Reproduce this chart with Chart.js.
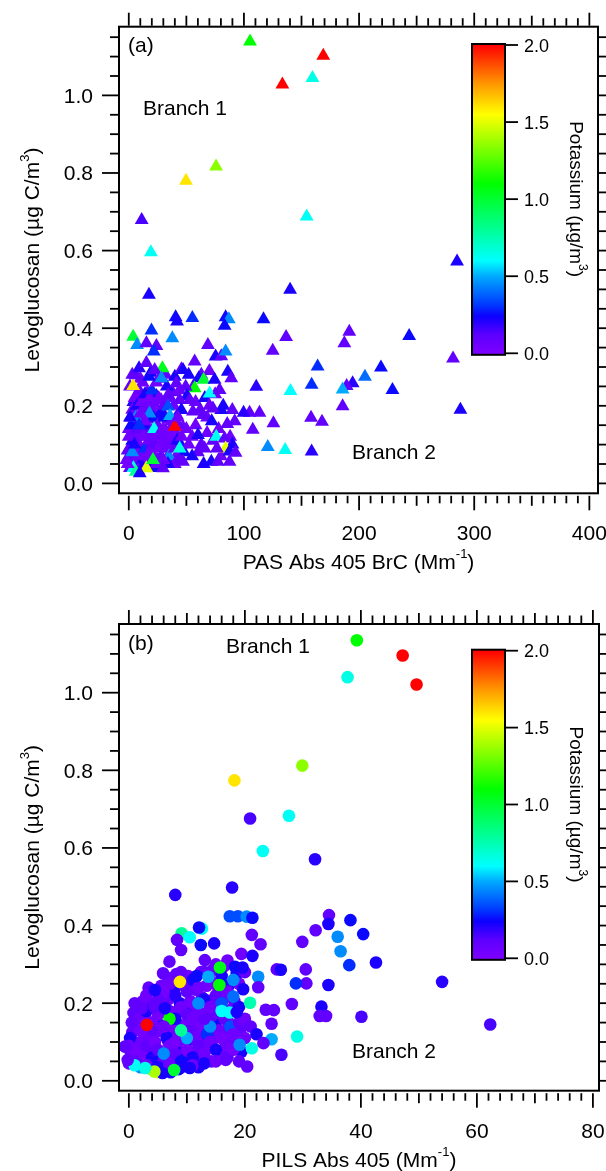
<!DOCTYPE html>
<html>
<head>
<meta charset="utf-8">
<title>Levoglucosan vs BrC absorption</title>
<script src="https://cdn.jsdelivr.net/npm/chart.js@4.4.1/dist/chart.umd.min.js"></script>
<style>
  html, body { margin: 0; padding: 0; background: #fff; }
  #wrap { width: 606px; height: 1171px; overflow: hidden; }
  canvas { display: block; }
</style>
</head>
<body>
<div id="wrap">
  <canvas id="chartA" width="606" height="585"></canvas>
  <canvas id="chartB" width="606" height="586"></canvas>
</div>
<script>
// ---- data: [absorption (Mm-1), levoglucosan (ug C/m3), potassium (ug/m3)] ----
const pasAbsPoints = [
  // dense cluster near the origin (drawn first, partly hidden)
  [-2,0.06,0.05],[1,0.04,0.1],[5,0.05,0.22],[9,0.045,0.05],[13,0.055,0.1],[17,0.05,0.03],[21,0.045,0.22],[25,0.06,0.05],
  [29,0.05,0.1],[33,0.065,0.05],[37,0.055,0.22],[41,0.07,0.05],[-1,0.085,0.1],[2,0.095,0.05],[6,0.09,0.03],[10,0.085,0.22],
  [15,0.095,0.1],[19,0.09,0.05],[23,0.10,0.1],[27,0.095,0.22],[31,0.105,0.05],[35,0.10,0.1],[39,0.11,0.05],[45,0.10,0.22],
  [0,0.14,0.05],[4,0.125,0.1],[8,0.135,0.22],[12,0.13,0.05],[16,0.125,0.1],[20,0.135,0.03],[24,0.14,0.05],[28,0.125,0.22],
  [32,0.135,0.1],[36,0.14,0.05],[41,0.13,0.1],[47,0.145,0.05],[2,0.17,0.1],[6,0.165,0.05],[10,0.16,0.22],[14,0.175,0.05],
  [18,0.165,0.1],[22,0.18,0.05],[26,0.17,0.22],[30,0.18,0.1],[34,0.165,0.05],[42,0.175,0.1],[4,0.21,0.22],[8,0.225,0.05],
  [12,0.215,0.1],[16,0.235,0.05],[20,0.21,0.1],[24,0.225,0.22],[28,0.215,0.05],[38,0.235,0.1],[44,0.24,0.05],[3,0.28,0.1],
  [10,0.27,0.05],[19,0.285,0.22],[26,0.27,0.05],[32,0.28,0.1],[40,0.275,0.22],[55,0.12,0.05],[60,0.08,0.1],[65,0.05,0.22],
  [68,0.17,0.05],[73,0.11,0.1],[78,0.14,0.05],[82,0.20,0.22],[88,0.12,0.05],[92,0.16,0.1],[58,0.21,0.05],[63,0.28,0.1],
  [70,0.29,0.05],[80,0.07,0.05],[90,0.10,0.22],
  [2,0.05,0.05],[4,0.07,0.03],[1,0.09,0.1],[3,0.11,0.22],[6,0.06,0.05],[8,0.08,0.03],[5,0.13,0.1],[2,0.15,0.25],
  [7,0.12,0.05],[10,0.05,0.22],[12,0.07,0.05],[9,0.10,0.03],[11,0.14,0.1],[14,0.09,0.3],[13,0.12,0.03],[16,0.06,0.05],
  [18,0.08,0.03],[15,0.15,0.22],[17,0.11,0.05],[20,0.10,0.1],[22,0.07,0.03],[19,0.13,0.05],[21,0.17,0.25],[24,0.12,0.05],
  [26,0.09,0.03],[25,0.15,0.1],[23,0.20,0.05],[27,0.18,0.22],[29,0.11,0.05],[30,0.14,0.03],[28,0.07,0.1],[32,0.09,0.05],
  [31,0.17,0.25],[33,0.12,0.05],[35,0.07,0.45],[36,0.10,0.05],[38,0.13,0.03],[40,0.09,0.1],[42,0.11,0.22],[37,0.16,0.05],
  [39,0.20,0.05],[43,0.15,0.1],[46,0.12,0.05],[48,0.08,0.25],[50,0.14,0.05],[3,0.19,0.05],[5,0.22,0.03],[1,0.25,0.1],
  [7,0.20,0.22],[9,0.24,0.05],[11,0.21,0.03],[13,0.19,0.1],[6,0.17,0.45],[10,0.18,0.05],[12,0.26,0.05],[14,0.23,0.22],
  [16,0.20,0.05],[18,0.22,0.03],[20,0.24,0.3],[4,0.04,0.62],[8,0.035,0.05],[12,0.04,0.22],[6,0.03,0.8],[16,0.045,0.05],
  [20,0.04,0.25],[24,0.05,0.05],[0,0.07,0.1],[-1,0.05,0.03],[0,0.12,0.05],[1,0.17,0.22],[26,0.22,0.05],[30,0.20,0.1],
  [33,0.25,0.22],[36,0.22,0.05],[24,0.26,0.03],[18,0.18,0.45],[22,0.14,0.62],[27,0.13,0.05],[14,0.16,0.03],[9,0.15,0.3],
  [3,0.08,0.45],[5,0.10,0.22],[40,0.05,0.05],[44,0.06,0.1],[34,0.05,0.22],[30,0.06,0.05],[52,0.10,0.05],[55,0.07,0.22],
  [58,0.15,0.05],[62,0.19,0.1],[66,0.22,0.22],[70,0.20,0.05],[56,0.25,0.05],[63,0.10,0.1],[68,0.13,0.05],[72,0.16,0.22],
  [75,0.23,0.05],[52,0.28,0.22],
  // scattered points
  [40.7,0.428,0.25],[41.9,0.417,0.22],[55.2,0.426,0.3],[84.1,0.428,0.25],[86.9,0.423,0.45],[83.2,0.406,0.25],[117,0.423,0.25],
  [3.8,0.378,1.0],[19.7,0.394,0.3],[7.2,0.357,0.45],[15.3,0.361,0.1],[24,0.354,0.1],[21.7,0.34,0.3],[37.8,0.374,0.45],
  [68.7,0.357,0.1],[75.4,0.327,0.22],[80.3,0.328,0.1],[84.1,0.34,0.45],[136.6,0.377,0.1],[191.5,0.391,0.1],[187.2,0.361,0.1],
  [125,0.342,0.1],[243.5,0.38,0.25],[164,0.301,0.3],[219,0.299,0.25],[205.1,0.275,0.4],[194.4,0.258,0.2],[189.2,0.251,0.1],
  [185.7,0.242,0.5],[229,0.241,0.25],[158.8,0.254,0.3],[140.4,0.238,0.6],[110.7,0.249,0.2],[185.7,0.199,0.1],[158.3,0.169,0.1],
  [167.8,0.159,0.1],[125.6,0.155,0.1],[107.7,0.138,0.1],[120.7,0.094,0.45],[135.8,0.086,0.62],[158.8,0.082,0.2],[113.5,0.182,0.1],
  [104.9,0.182,0.1],[99.7,0.182,0.2],[89.9,0.189,0.1],[85.5,0.153,0.1],[80.3,0.189,0.22],[73.1,0.193,0.1],[64.4,0.176,0.1],
  [57.2,0.314,0.1],[60.7,0.271,0.22],[65,0.267,1.0],[57.2,0.245,1.1],[70.2,0.232,0.6],[74.5,0.267,0.22],[78.9,0.241,0.1],
  [86,0.288,0.22],[89,0.271,0.1],[29.2,0.297,1.05],[3.8,0.251,1.6],[6.1,0.279,0.1],[8.9,0.297,0.2],[15.3,0.31,0.1],
  [17.6,0.275,0.25],[22.5,0.292,0.1],[28.3,0.271,0.45],[34.1,0.228,0.1],[41.3,0.258,0.1],[45.7,0.294,0.1],[47.1,0.292,0.22],
  [49.4,0.249,0.1],[50.6,0.225,0.22],[39.9,0.146,2.0],[44.2,0.215,0.1],[52.9,0.215,0.1],[45.7,0.189,0.22],[55.7,0.185,0.1],
  [34.1,0.198,0.35],[35.8,0.174,0.5],[42.5,0.17,0.05],[60.1,0.125,0.22],[76,0.12,0.62],[83.2,0.116,0.1],[84.1,0.09,1.5],
  [87.5,0.082,0.22],[92.7,0.079,0.1],[76.5,0.09,0.1],[71.7,0.056,0.22],[77.4,0.056,0.1],[87.5,0.056,0.1],[65.9,0.09,0.1],
  [47.1,0.056,0.1],[44.2,0.09,0.65],[29.7,0.039,0.1],[15.3,0.039,1.5],[9.5,0.026,0.22],[21,0.06,1.0],[281.6,0.322,0.1],
  [288,0.19,0.22],
  // high levoglucosan
  [105.3,1.139,1.1],[168.9,1.102,2.0],[133.4,1.028,2.0],[159.5,1.045,0.65],[75.8,0.817,1.35],[49.7,0.780,1.6],
  [11.2,0.679,0.15],[154.5,0.688,0.62],[19.2,0.596,0.62],[285.1,0.572,0.22],[140.1,0.499,0.22],[17.5,0.486,0.22]
];

const pilsAbsPoints = [
  // dense cluster near the origin (drawn first, partly hidden)
  [14.8,0.14,2.0],[2.4,0.13,2.0],
  [3.8,0.03,0.62],[6.6,0.028,1.0],[5,0.022,1.5],[8.6,0.03,0.22],[7.2,0.022,0.22],[12,0.035,0.22],[2,0.035,0.45],
  [0,0.045,0.05],[1.8,0.05,0.1],[3.2,0.055,0.03],[4.8,0.045,0.05],[6.3,0.05,0.22],[7.8,0.055,0.05],[9.6,0.06,0.1],
  [11.3,0.055,0.03],[12.8,0.06,0.05],[14.2,0.05,0.1],[16.2,0.06,0.22],[0.3,0.075,0.1],[2.2,0.08,0.05],[3.8,0.075,0.03],
  [5.4,0.07,0.1],[7.2,0.075,0.05],[8.8,0.08,0.22],[10.4,0.075,0.05],[12.2,0.08,0.1],[13.8,0.085,0.03],[15.6,0.075,0.05],
  [17.6,0.08,0.1],[19.4,0.075,0.22],[0.8,0.10,0.05],[2.8,0.105,0.1],[4.2,0.095,0.05],[6.8,0.10,0.03],[8.2,0.105,0.1],
  [9.8,0.095,0.22],[11.8,0.10,0.05],[13.2,0.105,0.1],[14.8,0.11,0.05],[16.6,0.10,0.03],[18.4,0.105,0.1],[0.6,0.125,0.1],
  [2.6,0.12,0.03],[4.6,0.125,0.05],[6.2,0.13,0.1],[7.8,0.125,0.22],[9.2,0.12,0.05],[10.8,0.125,0.1],[12.4,0.13,0.03],
  [14.4,0.125,0.05],[16.8,0.13,0.1],[18.8,0.125,0.05],[1.6,0.155,0.05],[3.6,0.15,0.1],[5.2,0.145,0.22],[7,0.15,0.05],
  [8.6,0.145,0.1],[10.2,0.15,0.03],[11.6,0.145,0.05],[13.4,0.15,0.1],[15.2,0.155,0.22],[17.2,0.15,0.05],[19.6,0.14,0.1],
  [0.8,0.175,0.1],[2.8,0.17,0.05],[4.8,0.18,0.03],[6.6,0.175,0.1],[8.4,0.18,0.05],[10.4,0.185,0.22],[12.2,0.175,0.05],
  [14.2,0.18,0.1],[15.8,0.175,0.03],[17.8,0.185,0.05],[2.4,0.205,0.05],[4.2,0.20,0.1],[6.8,0.21,0.05],[8.8,0.20,0.22],
  [10.6,0.205,0.05],[12.6,0.215,0.1],[14.6,0.21,0.03],[16.6,0.215,0.05],[18.2,0.205,0.1],[3.4,0.24,0.1],[5.6,0.245,0.05],
  [7.8,0.235,0.22],[9.6,0.245,0.05],[11.4,0.235,0.1],[13.4,0.245,0.03],[15.4,0.24,0.05],[17.2,0.245,0.22],[6.8,0.265,0.05],
  [8.2,0.275,0.1],[10.2,0.27,0.03],[12.4,0.28,0.05],[14.4,0.285,0.1],[16.4,0.295,0.05],[18.6,0.275,0.22],
  [0.5,0.06,0.05],[1,0.08,0.03],[1.5,0.05,0.1],[2,0.10,0.05],[0.2,0.11,0.22],[2.5,0.07,0.03],[3,0.09,0.1],[3.5,0.12,0.05],
  [1.2,0.14,0.1],[4,0.06,0.22],[4.5,0.10,0.03],[5,0.08,0.1],[5.5,0.13,0.05],[6,0.05,0.1],[6.5,0.11,0.22],[7,0.09,0.05],
  [7.5,0.14,0.03],[8,0.07,0.1],[8.5,0.12,0.05],[9,0.05,0.25],[9.5,0.10,0.05],[10,0.08,0.03],[10.5,0.13,0.1],[11,0.06,0.22],
  [11.5,0.11,0.05],[12,0.09,0.1],[12.5,0.15,0.03],[13,0.07,0.05],[13.5,0.12,0.3],[14,0.10,0.05],[14.5,0.17,0.1],[15,0.08,0.22],
  [15.5,0.13,0.05],[16,0.11,0.03],[16.5,0.16,0.1],[17,0.09,0.05],[17.5,0.14,0.35],[18,0.12,0.05],[19,0.15,0.1],[20,0.11,0.05],
  [2,0.16,0.05],[3,0.18,0.22],[4,0.15,0.05],[5,0.17,0.03],[6,0.20,0.1],[7,0.18,0.05],[8,0.16,0.22],[9,0.19,0.05],
  [10,0.17,0.1],[11,0.20,0.03],[12,0.18,0.05],[13,0.21,0.22],[14,0.19,0.05],[15,0.22,0.1],[16,0.20,0.35],[17,0.23,0.05],
  [10,0.23,0.1],[11,0.26,0.22],[12,0.24,0.05],[13,0.28,0.1],[14,0.26,0.03],[15,0.30,0.05],[16,0.27,0.22],[17,0.31,0.05],
  [9,0.28,0.1],[8,0.22,0.2],[7,0.25,0.05],[6,0.23,0.03],[5,0.21,0.1],[3,0.22,0.05],[1,0.20,0.1],[19,0.25,0.05],
  [20,0.28,0.1],[18,0.26,0.45],[19,0.19,0.22],[20,0.16,0.05],[21,0.14,0.1],[22,0.12,0.22],[1,0.04,0.62],[3,0.04,0.05],
  [5,0.035,0.22],[7,0.04,0.05],[9,0.035,0.22],[11,0.04,0.05],[13,0.045,0.22],[6,0.07,0.45],[10,0.11,0.5],[14,0.14,0.45],
  [16,0.18,0.6],[12,0.20,0.45],[9,0.13,0.8],[7,0.16,1.1],[11,0.16,0.05],[13,0.16,0.1],[15,0.05,0.05],[17,0.06,0.1],
  [18,0.08,0.03],[19,0.05,0.1],[8,0.10,0.03],[6,0.14,0.05],[4,0.13,0.1],[2,0.13,0.03],[0,0.09,0.05],[0.5,0.15,0.1],
  // scattered points
  [17.4,0.424,0.35],[18.8,0.424,0.35],[20.3,0.423,0.45],[21.3,0.42,0.25],[12.6,0.392,0.6],[12.1,0.395,0.25],[9.1,0.38,0.8],
  [10.5,0.37,0.6],[8.3,0.363,0.1],[9,0.337,0.1],[12.4,0.35,0.25],[14.7,0.354,0.22],[13.1,0.311,0.1],[21.2,0.376,0.1],
  [22.7,0.352,0.1],[19.4,0.327,0.05],[21.3,0.322,0.22],[7,0.307,0.1],[5.9,0.277,0.1],[15.7,0.292,1.05],[18.3,0.294,0.25],
  [19.6,0.292,0.22],[11.7,0.27,0.25],[13.7,0.268,0.5],[8.8,0.255,1.6],[22.3,0.268,0.45],[22.3,0.241,0.1],[19.7,0.236,0.22],
  [15.6,0.247,1.1],[18,0.217,0.4],[20.9,0.201,0.75],[17.4,0.176,0.6],[18.6,0.177,0.22],[4.5,0.234,0.22],[2.2,0.187,0.1],
  [4.4,0.191,0.1],[6.2,0.187,0.22],[3.1,0.144,2.0],[25.5,0.287,0.1],[26.2,0.286,0.22],
  [29.9,0.358,0.1],[32.2,0.388,0.1],[34.5,0.427,0.1],[34.4,0.404,0.22],[36,0.371,0.45],[38.2,0.414,0.25],[40.4,0.378,0.25],
  [36.5,0.334,0.45],[38,0.298,0.3],[42.6,0.305,0.22],[30.5,0.287,0.1],[30.6,0.251,0.1],[28.8,0.251,0.3],[34.4,0.247,0.22],
  [28.1,0.198,0.1],[33.2,0.191,0.22],[32.9,0.167,0.1],[34,0.167,0.1],[40.1,0.165,0.15],[29,0.114,0.65],[24.6,0.107,0.5],
  [26.3,0.067,0.15],[20.4,0.037,0.1],[21.2,0.084,0.65],[19.1,0.093,0.45],[23.2,0.097,0.1],[24.6,0.147,0.1],[23.6,0.183,0.1],
  [25,0.182,0.1],[16.7,0.054,0.1],[54,0.255,0.2],[62.3,0.145,0.15],[5.8,0.02,0.22],[4.4,0.024,1.4],[7.8,0.028,1.0],
  [2.8,0.033,0.65],[-0.2,0.054,0.1],[-0.7,0.088,0.1],[10.5,0.033,0.22],
  // high levoglucosan
  [39.3,1.135,1.1],[47.2,1.096,2.0],[49.6,1.021,2.0],[37.7,1.04,0.65],[29.9,0.812,1.35],[18.2,0.774,1.6],
  [20.9,0.676,0.15],[27.6,0.683,0.62],[23.1,0.592,0.62],[32.1,0.571,0.2],[8,0.479,0.2],[17.8,0.498,0.2]
];

const levoTicks = [0, 0.2, 0.4, 0.6, 0.8, 1.0];
const pasTicks = [0, 100, 200, 300, 400];
const pilsTicks = [0, 20, 40, 60, 80];
const potassiumTicks = [0, 0.5, 1.0, 1.5, 2.0];

// ---- styling ----
const FONT = '"Liberation Sans", Arial, Helvetica, sans-serif';
const colorStops = [
  [0, [125, 0, 255]], [0.12, [92, 0, 255]], [0.24, [12, 0, 255]], [0.32, [0, 60, 255]],
  [0.5, [0, 170, 255]], [0.6, [0, 255, 255]], [0.8, [0, 255, 150]], [1.1, [0, 255, 0]],
  [1.55, [255, 255, 0]], [1.75, [255, 150, 0]], [2.0, [255, 0, 0]]
];

function kColor(k) {
  k = Math.max(0, Math.min(2, k));
  for (let i = 1; i < colorStops.length; i++) {
    const [v1, c1] = colorStops[i];
    const [v0, c0] = colorStops[i - 1];
    if (k <= v1) {
      const t = (k - v0) / (v1 - v0);
      const c = c0.map((c, j) => Math.round(c + (c1[j] - c) * t));
      return `rgb(${c[0]},${c[1]},${c[2]})`;
    }
  }
  return 'rgb(255,0,0)';
}

// text with superscripts: [text, size, raise]
function drawRuns(ctx, runs, x, y, align) {
  let w = 0;
  runs.forEach(r => { ctx.font = r[1] + 'px ' + FONT; w += ctx.measureText(r[0]).width; });
  let cx = align === 'center' ? x - w / 2 : x;
  ctx.textAlign = 'left';
  ctx.textBaseline = 'alphabetic';
  runs.forEach(r => {
    ctx.font = r[1] + 'px ' + FONT;
    ctx.fillText(r[0], cx, y - (r[2] || 0));
    cx += ctx.measureText(r[0]).width;
  });
}

function line(ctx, x1, y1, x2, y2) {
  ctx.beginPath(); ctx.moveTo(x1, y1); ctx.lineTo(x2, y2); ctx.stroke();
}

const levoTitle = [['Levoglucosan (\u00b5g C/m', 21], ['3', 13, 10], [')', 21]];
const kTitle = [['Potassium (\u00b5g/m', 19], ['3', 12, 9], [')', 19]];

// Igor-like frame, ticks, labels and colour bar
const igorAxes = {
  id: 'igorAxes',
  afterDraw(chart, args, o) {
    const { ctx, chartArea: a, scales: { x, y } } = chart;
    ctx.save();
    ctx.strokeStyle = '#000';
    ctx.fillStyle = '#000';
    ctx.lineCap = 'butt';

    // frame
    ctx.lineWidth = 2;
    ctx.strokeRect(a.left, a.top, a.right - a.left, a.bottom - a.top);

    // y ticks (left + mirrored right)
    ctx.lineWidth = 1.8;
    for (let i = 0; i * 0.05 <= y.max; i++) {
      const py = y.getPixelForValue(i * 0.05);
      const len = i % 4 === 0 ? 17 : 9;
      line(ctx, a.left - len, py, a.left - 1, py);
      line(ctx, a.right + 1, py, a.right + len, py);
    }
    // x ticks (bottom offset + top)
    for (let i = 0; i * o.xMinor <= o.xEnd + 1e-9; i++) {
      const v = i * o.xMinor;
      const px = x.getPixelForValue(v);
      const major = Math.abs(v / o.xMajor - Math.round(v / o.xMajor)) < 1e-6;
      const mid = !major && Math.abs(v / o.xMid - Math.round(v / o.xMid)) < 1e-6;
      const lb = major ? 14.5 : mid ? 10 : 7.5;
      const lt = major ? 14 : mid ? 11 : 8.5;
      line(ctx, px, a.bottom + 2.5, px, a.bottom + 2.5 + lb);
      line(ctx, px, a.top - lt, px, a.top - 1);
    }

    // tick labels
    ctx.font = '21px ' + FONT;
    ctx.textBaseline = 'alphabetic';
    ctx.textAlign = 'right';
    levoTicks.forEach(v => ctx.fillText(v.toFixed(1), 93, y.getPixelForValue(v) + 7.5));
    ctx.textAlign = 'center';
    o.xLabels.forEach(v => ctx.fillText(String(v), x.getPixelForValue(v), a.bottom + 47));

    // axis titles
    drawRuns(ctx, o.xTitle, (a.left + a.right) / 2, a.bottom + 76, 'center');
    ctx.save();
    ctx.translate(39, (a.top + a.bottom) / 2);
    ctx.rotate(-Math.PI / 2);
    drawRuns(ctx, levoTitle, 0, 0, 'center');
    ctx.restore();

    // annotations
    ctx.font = '21px ' + FONT;
    ctx.textAlign = 'left';
    ctx.fillText(o.panel, o.panelPos[0], o.panelPos[1]);
    ctx.fillText('Branch 1', o.branch1[0], o.branch1[1]);
    ctx.fillText('Branch 2', o.branch2[0], o.branch2[1]);

    // colour bar
    const cb = o.cb;
    const kPix = v => cb.bottom - (cb.bottom - cb.top) * v / 2;
    const g = ctx.createLinearGradient(0, cb.bottom, 0, cb.top);
    colorStops.forEach(([v]) => g.addColorStop(v / 2, kColor(v)));
    ctx.fillStyle = g;
    ctx.fillRect(cb.left, cb.top - 1, cb.right - cb.left, cb.bottom - cb.top + 2.5);
    ctx.lineWidth = 2;
    ctx.strokeRect(cb.left, cb.top - 1, cb.right - cb.left, cb.bottom - cb.top + 2.5);
    ctx.fillStyle = '#000';
    ctx.lineWidth = 1.8;
    ctx.font = '18px ' + FONT;
    ctx.textAlign = 'left';
    potassiumTicks.forEach(v => {
      const py = kPix(v);
      line(ctx, cb.right, py, cb.right + 13, py);
      ctx.fillText(v.toFixed(1), cb.right + 19, py + 6.5);
    });
    ctx.save();
    ctx.translate(569.5, (cb.top + cb.bottom) / 2);
    ctx.rotate(Math.PI / 2);
    drawRuns(ctx, kTitle, 0, 0, 'center');
    ctx.restore();

    ctx.restore();
  }
};

function makeChart(id, points, pointStyle, radius, xMin, xMax, pad, axisOpts) {
  return new Chart(document.getElementById(id), {
    type: 'scatter',
    data: {
      datasets: [{
        data: points.map(p => ({ x: p[0], y: p[1] })),
        backgroundColor: points.map(p => kColor(p[2])),
        pointStyle: pointStyle,
        pointRadius: radius,
        pointBorderWidth: 0,
        borderWidth: 0
      }]
    },
    options: {
      responsive: false,
      animation: false,
      devicePixelRatio: 1,
      events: [],
      layout: { padding: pad },
      plugins: { legend: { display: false }, tooltip: { enabled: false }, igorAxes: axisOpts },
      scales: {
        x: { type: 'linear', min: xMin, max: xMax, display: false },
        y: { type: 'linear', min: -0.0255, max: 1.177, display: false }
      }
    },
    plugins: [igorAxes]
  });
}

makeChart('chartA', pasAbsPoints, 'triangle', 8, -8.5, 407.5,
  { left: 119, top: 26.7, right: 7, bottom: 91.7 },
  {
    panel: '(a)', panelPos: [128, 52], branch1: [143, 115], branch2: [352, 459],
    xMinor: 10, xMid: 50, xMajor: 100, xEnd: 400, xLabels: pasTicks,
    xTitle: [['PAS Abs 405 BrC (Mm', 21], ['-1', 13, 11], [')', 21]],
    cb: { left: 472, right: 505, top: 45, bottom: 353.3 }
  });

makeChart('chartB', pilsAbsPoints, 'circle', 6.3, -1.7, 81.05,
  { left: 119, top: 39, right: 7, bottom: 80.3 },
  {
    panel: '(b)', panelPos: [128, 65], branch1: [226, 68], branch2: [352, 473],
    xMinor: 2, xMid: 10, xMajor: 20, xEnd: 80, xLabels: pilsTicks,
    xTitle: [['PILS Abs 405 (Mm', 21], ['-1', 13, 11], [')', 21]],
    cb: { left: 472, right: 505, top: 65.7, bottom: 373.3 }
  });
</script>
</body>
</html>
